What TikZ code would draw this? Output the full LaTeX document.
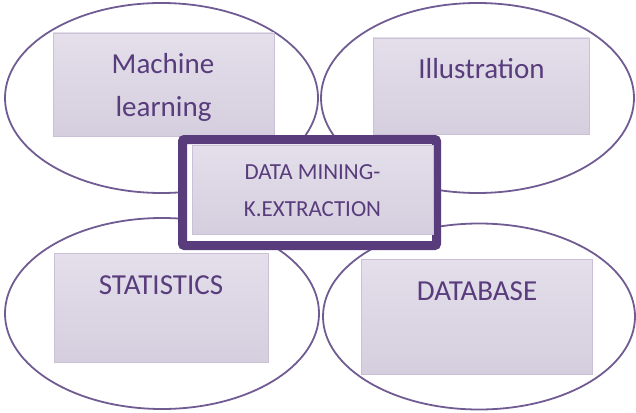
\documentclass[tikz,border=0pt]{standalone}
\usepackage{fontspec}
\setmainfont{Carlito}
\definecolor{dmring}{RGB}{112,92,146}
\definecolor{dmtext}{RGB}{88,60,124}
\definecolor{dmframe}{RGB}{88,60,124}
\definecolor{dmtop}{RGB}{228,223,235}
\definecolor{dmbot}{RGB}{213,206,222}
\definecolor{dmedge}{RGB}{202,193,214}
\usetikzlibrary{shapes.geometric}

\begin{document}
\begin{tikzpicture}[x=1pt,y=-1pt,
    ring/.style={draw=dmring,line width=1.8pt,ellipse,inner sep=0pt},
    panel/.style={draw=dmedge,line width=0.8pt,top color=dmtop,bottom color=dmbot,inner sep=0pt},
    lbl/.style={text=dmtext,anchor=base,inner sep=0pt,font=\fontsize{29}{35}\selectfont},
    sublbl/.style={text=dmtext,anchor=base,inner sep=0pt,font=\fontsize{23}{28}\selectfont}]
  \useasboundingbox (0,0) rectangle (636,412);
  % outer rings
  \node[ring,minimum width=313,minimum height=190] (mlring) at (161.5,98) {};
  \node[ring,minimum width=313,minimum height=190] (ilring) at (477.5,98) {};
  \node[ring,minimum width=314,minimum height=191] (string) at (162,313.5) {};
  \node[ring,minimum width=312,minimum height=186] (dbring) at (479,316.5) {};
  % panels
  \node[panel,minimum width=221,minimum height=103] (mlpanel) at (163.5,84.5) {};
  \node[panel,minimum width=216,minimum height=96] (ilpanel) at (481,86) {};
  \node[panel,minimum width=214,minimum height=109] (stpanel) at (161,307.5) {};
  \node[panel,minimum width=231,minimum height=115] (dbpanel) at (476.5,316.5) {};
  \node[lbl] (mlone) at (163,74) {Machine};
  \node[lbl] (mltwo) at (163.5,116) {learning};
  \node[lbl] (illbl) at (481.5,78) {Illustration};
  \node[lbl] (stlbl) at (161,294) {STATISTICS};
  \node[lbl] (dblbl) at (477,300) {DATABASE};
  % centre frame
  \node[draw=dmframe,fill=white,line width=9pt,rounded corners=2pt,inner sep=0pt,
        minimum width=254,minimum height=106] (dmbox) at (309.5,192.5) {};
  \node[panel,minimum width=241,minimum height=89] (dmpanel) at (312.5,189.5) {};
  \node[sublbl] (dmone) at (312.5,179) {DATA MINING-};
  \node[sublbl] (dmtwo) at (312.5,216) {K.EXTRACTION};
\end{tikzpicture}
\end{document}
